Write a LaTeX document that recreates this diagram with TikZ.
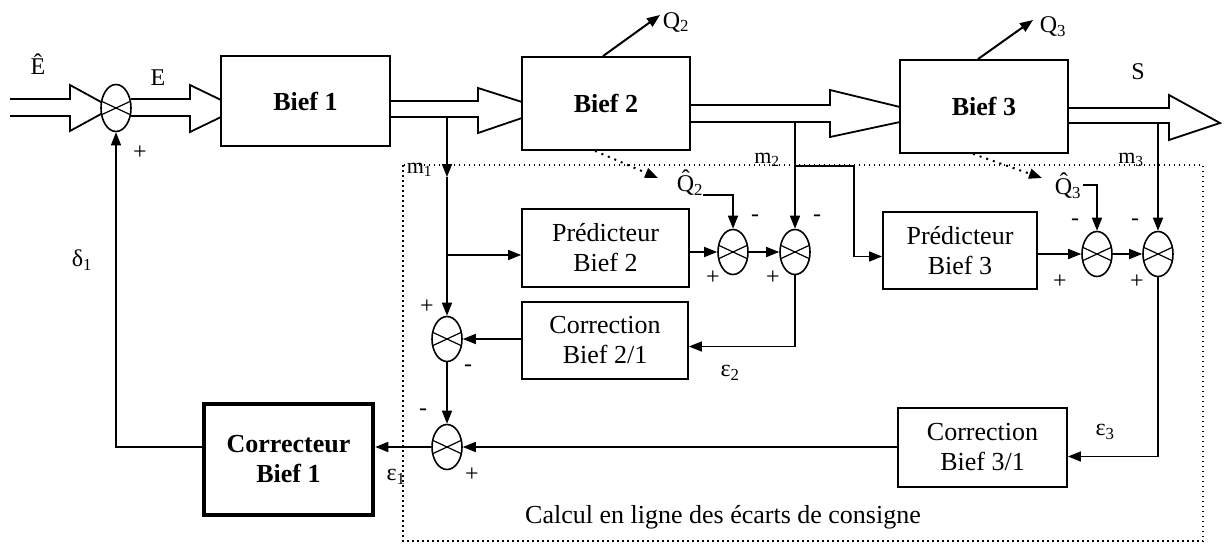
\documentclass[tikz,border=0pt]{standalone}
\usepackage{fontspec}
\setmainfont{Liberation Serif}
\usetikzlibrary{arrows.meta,shapes.geometric}
\begin{document}
\begin{tikzpicture}[x=1pt,y=-1pt, line width=1.6pt,
  arr/.style={-{Triangle[length=13pt,width=10pt]}},
  box/.style={draw, fill=white, line width=1.8pt, align=center, inner sep=0pt, font=\fontsize{26}{30}\selectfont},
  bbox/.style={box, font=\fontsize{26}{30}\selectfont\bfseries},
  lab/.style={inner sep=0pt, font=\fontsize{22}{24}\selectfont},
  biglab/.style={inner sep=0pt, font=\fontsize{24}{26}\selectfont},
  sgn/.style={inner sep=0pt, font=\fontsize{24}{26}\selectfont},
  hollow/.style={line width=1.8pt, line join=miter},
  sumj/.style={draw, ellipse, fill=white, line width=1.6pt, minimum width=30pt, minimum height=45pt, inner sep=0pt,
    path picture={\draw[line width=1.2pt]
      ([shift={(-15pt,-7pt)}]path picture bounding box.center) -- ([shift={(15pt,7pt)}]path picture bounding box.center)
      ([shift={(-15pt,7pt)}]path picture bounding box.center) -- ([shift={(15pt,-7pt)}]path picture bounding box.center);}},
  dotarr/.style={line width=2pt, dash pattern=on 2pt off 5pt, -{Triangle[length=13pt,width=10pt]}}
]
\useasboundingbox (0,0) rectangle (1226,549);

% dotted frame
\draw[line width=1.5pt, dash pattern=on 1.5pt off 3.5pt] (403,165) rectangle (1203,541);

% hollow (double-line) arrows of the main flow
\draw[hollow] (10,99) -- (70,99) -- (70,85) -- (112,108) -- (70,131) -- (70,116) -- (10,116);
\draw[hollow] (131,99) -- (190,99) -- (190,85) -- (221,100) (131,116) -- (190,116) -- (190,132) -- (221,117);
\draw[hollow] (390,101) -- (478,101) -- (478,88) -- (522,102) (390,117) -- (478,117) -- (478,133) -- (522,118);
\draw[hollow] (690,105) -- (830,105) -- (830,90) -- (900,107) (690,122) -- (830,122) -- (830,137) -- (900,122);
\draw[hollow] (1068,108) -- (1169,108) -- (1169,95) -- (1220,123) -- (1169,140) -- (1169,123) -- (1068,123);

% blocks
\node[bbox, minimum width=169pt, minimum height=90pt] (b1) at (305.5,101) {Bief 1};
\node[bbox, minimum width=168pt, minimum height=93pt] (b2) at (606,103.5) {Bief 2};
\node[bbox, minimum width=168pt, minimum height=93pt] (b3) at (984,106.5) {Bief 3};
\node[box, minimum width=167pt, minimum height=78pt] (p2) at (605.5,248) {Prédicteur\\Bief 2};
\node[box, minimum width=166pt, minimum height=77pt] (c21) at (605,340.5) {Correction\\Bief 2/1};
\node[box, minimum width=154pt, minimum height=77pt] (p3) at (960,250.5) {Prédicteur\\Bief 3};
\node[box, minimum width=169pt, minimum height=79pt] (c31) at (982.5,447.5) {Correction\\Bief 3/1};
\node[bbox, line width=4.5pt, minimum width=169pt, minimum height=111pt] (cor) at (288.5,459.5) {Correcteur\\Bief 1};

% summing junctions
\node[sumj, minimum height=47pt] (s0) at (116,108) {};
\node[sumj] (s1) at (447,339) {};
\node[sumj] (sE) at (447,447) {};
\node[sumj] (sA) at (733,252) {};
\node[sumj] (sB) at (795,252) {};
\node[sumj] (sC) at (1097,254) {};
\node[sumj] (sD) at (1158,254) {};

% labels
\node[biglab] (Eh) at (38,64) {Ê};
\node[biglab] (E) at (158,78) {E};
\node[biglab] (S) at (1138,72) {S};
\node[biglab, anchor=west] (q2) at (662,22) {Q\textsubscript{2}};
\node[biglab, anchor=west] (q3) at (1039,27) {Q\textsubscript{3}};
\node[biglab] (q2h) at (690,183) {\^{Q}\textsubscript{2}};
\node[biglab] (q3h) at (1068,186) {\^{Q}\textsubscript{3}};
\node[lab, anchor=west] (m1) at (406,170) {m\textsubscript{1}};
\node[lab] (m2l) at (767,160) {m\textsubscript{2}};
\node[lab] (m3l) at (1131,160) {m\textsubscript{3}};
\node[biglab] (d1) at (82,260) {δ\textsubscript{1}};
\node[biglab] (e1) at (396,477) {ε\textsubscript{1}};
\node[biglab] (e2) at (730,373) {ε\textsubscript{2}};
\node[biglab] (e3) at (1105,432) {ε\textsubscript{3}};
\node[inner sep=0pt, font=\fontsize{26}{28}\selectfont] (calc) at (723,517) {Calcul en ligne des écarts de consigne};

% signs
\node[sgn] (g0) at (140,153) {+};
\node[sgn] (g1a) at (427,307) {+};
\node[sgn] (g1b) at (468,368) {-};
\node[sgn] (gEa) at (423,412) {-};
\node[sgn] (gEb) at (472,475) {+};
\node[sgn] (gAa) at (755,218) {-};
\node[sgn] (gAb) at (713,278) {+};
\node[sgn] (gBa) at (817,218) {-};
\node[sgn] (gBb) at (773,278) {+};
\node[sgn] (gCa) at (1075,222) {-};
\node[sgn] (gCb) at (1060,282) {+};
\node[sgn] (gDa) at (1135,222) {-};
\node[sgn] (gDb) at (1137,282) {+};

% coordinates
\coordinate (q2e) at (660,15);
\coordinate (q3e) at (1033,20);
\coordinate (m1c) at (447,117);
\coordinate (m1a) at (447,177);
\coordinate (j1) at (447,255);
\coordinate (m2c) at (795,122);
\coordinate (m2b) at (795,166);
\coordinate (m2d) at (854,166);
\coordinate (m3c) at (1158,123);
\coordinate (q2c) at (703,195);
\coordinate (q3c) at (1083,185);
\coordinate (d2e) at (658,178);
\coordinate (d3e) at (1042,178);

% outgoing flows Q2, Q3
\draw[arr, line width=2pt] ([xshift=-3pt]b2.north) -- (q2e);
\draw[arr, line width=2pt] ([xshift=-6pt]b3.north) -- (q3e);
\draw[dotarr] ([xshift=-11pt]b2.south) -- (d2e);
\draw[dotarr] ([xshift=-11pt]b3.south) -- (d3e);

% m1 branch
\draw[arr] (m1c) -- (m1a);
\draw (m1a) -- (j1);
\draw[arr] (j1) -- (s1.north);
\draw[arr] (j1) -- (j1 -| p2.west);
\draw[arr] (p2.east |- sA) -- (sA.west);
\draw[arr] (sA.east) -- (sB.west);
\draw[arr] (q2c) -| (sA.north);
\draw[arr] (m2c) -- (sB.north);
\draw[arr] (sB.south) |- ([yshift=-6pt]c21.east);
\draw[arr] (c21.west |- s1) -- (s1.east);
\draw[arr] (s1.south) -- (sE.north);

% m2 branch / Bief 3
\draw[arr] (m2b) -- (m2d) |- ([yshift=-6pt]p3.west);
\draw[arr] (p3.east |- sC) -- (sC.west);
\draw[arr] (sC.east) -- (sD.west);
\draw[arr] (q3c) -| (sC.north);
\draw[arr] (m3c) -- (sD.north);
\draw[arr] (sD.south) |- ([yshift=-9pt]c31.east);
\draw[arr] (c31.west |- sE) -- (sE.east);

% feedback to Bief 1
\draw[arr] (sE.west) -- (cor.east |- sE);
\draw[arr, line width=1.3pt] (cor.west |- sE) -| (s0.south);
\end{tikzpicture}
\end{document}
